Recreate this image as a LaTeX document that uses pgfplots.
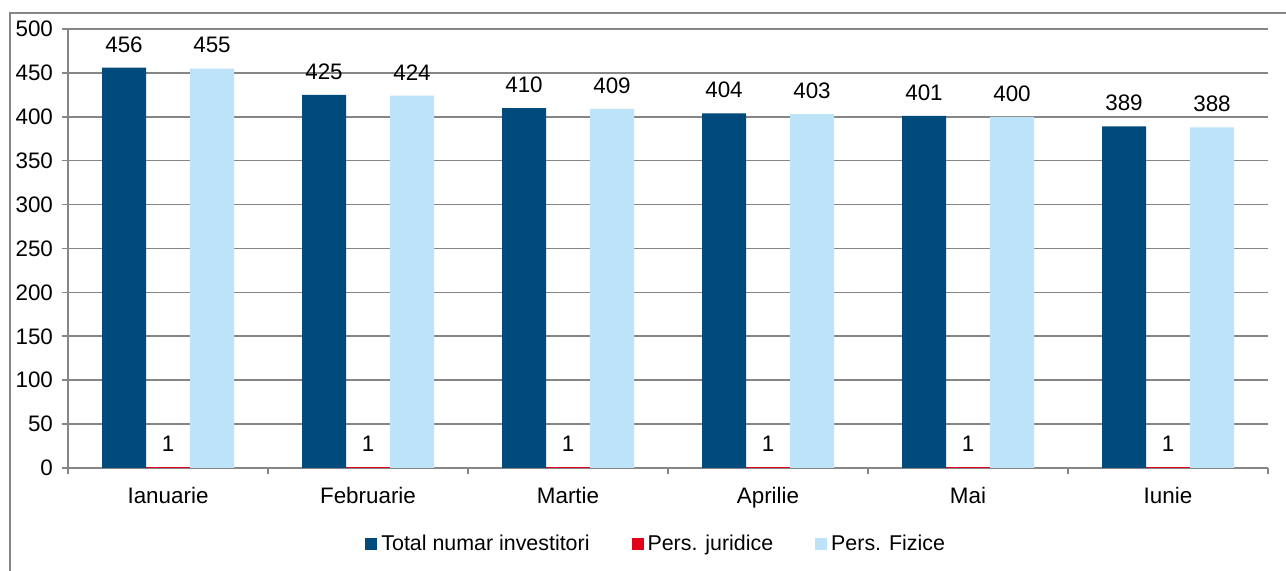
\documentclass[border=0pt]{standalone}
\usepackage{pgfplots}
\pgfplotsset{compat=1.18}
\usepackage{fontspec}
\setmainfont{Liberation Sans}
\definecolor{cdark}{RGB}{0,74,124}
\definecolor{cred}{RGB}{226,0,26}
\definecolor{clight}{RGB}{189,227,248}
\definecolor{cgrid}{RGB}{134,134,134}
\begin{document}
\begin{tikzpicture}[x=1pt,y=1pt]
\useasboundingbox (0,0) rectangle (643,285.5);
\draw[cgrid,line width=0.8pt] (5,0) -- (5,279) -- (643,279);
\begin{axis}[
  at={(34pt,51.5pt)}, anchor=south west,
  scale only axis, width=600pt, height=219.5pt,
  font=\fontsize{11.2}{13}\selectfont,
  /pgf/number format/assume math mode=true,
  ybar=0pt, bar width=22pt,
  xmin=-0.5, xmax=5.5, ymin=0, ymax=500,
  axis x line*=bottom, axis y line*=left,
  axis line style={cgrid, line width=0.8pt, -},
  xtick={0,1,2,3,4,5},
  xticklabels={Ianuarie,Februarie,Martie,Aprilie,Mai,Iunie},
  major x tick style={draw=none},
  minor xtick={-0.5,0.5,1.5,2.5,3.5,4.5,5.5},
  minor x tick style={cgrid, line width=0.8pt},
  minor tick length=3pt,
  ytick={0,50,...,500},
  major y tick style={cgrid, line width=0.8pt},
  major tick length=3pt,
  tick align=outside,
  ymajorgrids, grid style={cgrid, line width=0.8pt},
  xticklabel style={yshift=-3pt},
  yticklabel style={xshift=-1pt},
  nodes near coords,
  every node near coord/.append style={anchor=south, inner sep=0pt, yshift=7.5pt, black, font=\fontsize{11.2}{13}\selectfont},
  legend style={at={(0.491,-0.173)}, anchor=center, draw=none, legend columns=3,
    font=\fontsize{10.7}{13}\selectfont,
    /tikz/every even column/.append style={column sep=19pt}},
  legend image code/.code={\fill[#1,draw=none] (0pt,-3pt) rectangle (6pt,3pt);},
]
\addplot[fill=cdark, draw=none] coordinates {(0,456) (1,425) (2,410) (3,404) (4,401) (5,389)};
\addplot[fill=cred, draw=none] coordinates {(0,1) (1,1) (2,1) (3,1) (4,1) (5,1)};
\addplot[fill=clight, draw=none] coordinates {(0,455) (1,424) (2,409) (3,403) (4,400) (5,388)};
\legend{Total numar investitori, Pers. juridice, Pers. Fizice}
\end{axis}
\end{tikzpicture}
\end{document}
